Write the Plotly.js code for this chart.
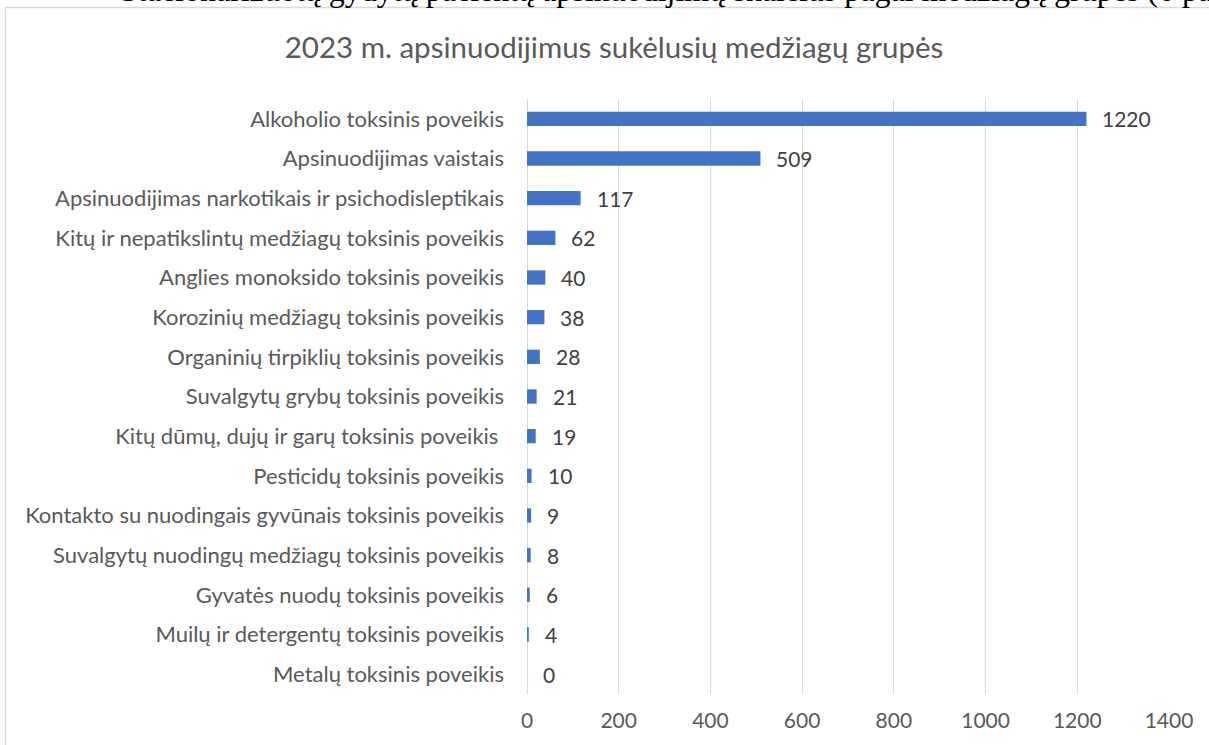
<!DOCTYPE html>
<html>
<head>
<meta charset="utf-8">
<script src="https://cdn.plot.ly/plotly-3.0.1.min.js"></script>
<style>
html,body{margin:0;padding:0;background:#fff;overflow:hidden;}
#chart{width:1209px;height:745px;}
</style>
</head>
<body>
<div id="chart"></div>
<script>
const categories = [
  "Alkoholio toksinis poveikis",
  "Apsinuodijimas vaistais",
  "Apsinuodijimas narkotikais ir psichodisleptikais",
  "Kitų ir nepatikslintų medžiagų toksinis poveikis",
  "Anglies monoksido toksinis poveikis",
  "Korozinių medžiagų toksinis poveikis",
  "Organinių tirpiklių toksinis poveikis",
  "Suvalgytų grybų toksinis poveikis",
  "Kitų dūmų, dujų ir garų toksinis poveikis ",
  "Pesticidų toksinis poveikis",
  "Kontakto su nuodingais gyvūnais toksinis poveikis",
  "Suvalgytų nuodingų medžiagų toksinis poveikis",
  "Gyvatės nuodų toksinis poveikis",
  "Muilų ir detergentų toksinis poveikis",
  "Metalų toksinis poveikis"
];
const values = [1220, 509, 117, 62, 40, 38, 28, 21, 19, 10, 9, 8, 6, 4, 0];
const xTicks = [0, 200, 400, 600, 800, 1000, 1200, 1400];
const chartTitle = "2023 m. apsinuodijimus sukėlusių medžiagų grupės";
const captionText = "Stacionarizuotų gydytų pacientų apsinuodijimų skaičius pagal medžiagų grupes (6 pav.)";

const font = "Lato, 'Open Sans', sans-serif";

const trace = {
  type: "bar",
  orientation: "h",
  y: categories,
  x: values,
  width: 0.36,
  marker: {color: "#4472C4"},
  hoverinfo: "x+y"
};

const labelAnns = categories.map((c, i) => ({
  x: values[i], y: c, xref: "x", yref: "y",
  text: String(values[i]), showarrow: false,
  xanchor: "left", yanchor: "middle", xshift: 14,
  font: {family: font, size: 21, color: "#404040"}
}));

const plotTop = 99, plotBottom = 694, plotLeft = 527, plotRight = 1169;
const ph = plotBottom - plotTop, pw = plotRight - plotLeft;
const px2x = p => (p - plotLeft) / pw;
const py2y = p => (plotBottom - p) / ph;

const layout = {
  width: 1209, height: 745,
  margin: {l: plotLeft, r: 1209 - plotRight, t: plotTop, b: 745 - plotBottom, pad: 0},
  paper_bgcolor: "#ffffff", plot_bgcolor: "#ffffff",
  showlegend: false,
  title: {
    text: chartTitle,
    font: {family: font, size: 29.5, color: "#595959"},
    x: 614 / 1209, xanchor: "center", y: 1 - 48 / 745, yanchor: "middle", xref: "container", yref: "container"
  },
  xaxis: {
    range: [0, 1400],
    tickvals: xTicks,
    ticktext: xTicks.map(String),
    showgrid: true, gridcolor: "#d9d9d9", gridwidth: 1,
    zeroline: true, zerolinecolor: "#d9d9d9", zerolinewidth: 1,
    showline: false, ticks: "",
    tickfont: {family: font, size: 21, color: "#595959"},
    ticklabelstandoff: 12,
    fixedrange: true
  },
  yaxis: {
    autorange: "reversed",
    showgrid: false, zeroline: false, showline: false, ticks: "",
    tickfont: {family: font, size: 22, color: "#595959"},
    ticklabelstandoff: 22,
    fixedrange: true
  },
  annotations: labelAnns.concat([{
    xref: "paper", yref: "paper",
    x: px2x(118), y: py2y(10),
    xanchor: "left", yanchor: "bottom",
    text: captionText, showarrow: false,
    font: {family: "'Liberation Serif', 'Times New Roman', serif", size: 32, color: "#000000"}
  }]),
  shapes: [
    {type: "line", xref: "paper", yref: "paper", x0: px2x(5.5), x1: px2x(5.5), y0: py2y(7), y1: py2y(760), line: {color: "#d9d9d9", width: 1.5}, layer: "below"},
    {type: "line", xref: "paper", yref: "paper", x0: px2x(5.5), x1: px2x(1230), y0: py2y(7.5), y1: py2y(7.5), line: {color: "#d9d9d9", width: 1.5}, layer: "below"}
  ]
};

Plotly.newPlot("chart", [trace], layout, {displayModeBar: false, staticPlot: true});
</script>
</body>
</html>
